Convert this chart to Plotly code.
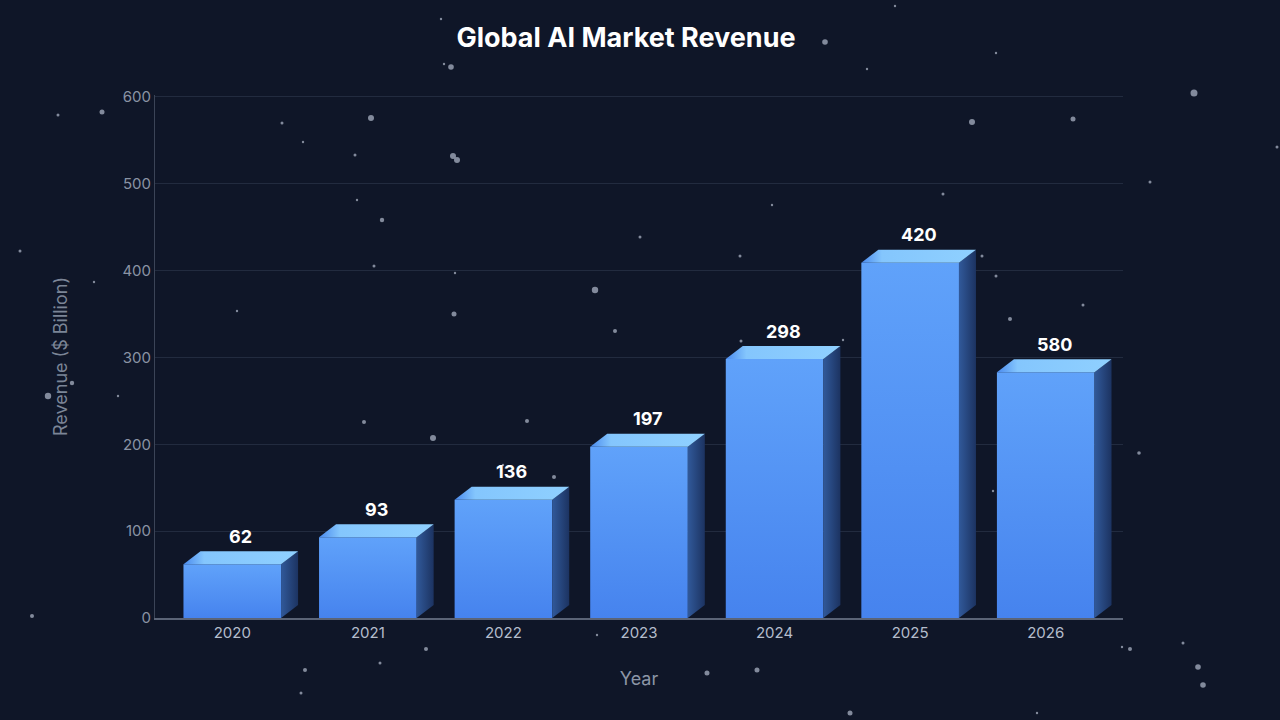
import plotly.graph_objects as go

# ---------------- data ----------------
years = ["2020", "2021", "2022", "2023", "2024", "2025", "2026"]
revenue_labels = [62, 93, 136, 197, 298, 420, 580]          # value labels shown above bars
bar_heights = [62, 93, 136, 197, 298, 409, 283]             # drawn bar heights
y_ticks = [0, 100, 200, 300, 400, 500, 600]

# decorative star field (pixel positions on the 1280x720 canvas, radius in px)
star_px = [441, 895, 825, 444, 451, 867, 996, 1194, 58, 102, 371, 282, 303, 972, 1073, 1277, 355, 453, 457,
           1150, 357, 943, 772, 382, 640, 20, 740, 982, 374, 455, 996, 94, 595, 237, 454, 1083, 1010, 615,
           741, 843, 72, 48, 118, 364, 527, 433, 1139, 554, 503, 993, 32, 597, 426, 1130, 1183, 1122, 305,
           380, 707, 757, 1198, 1203, 301, 850, 1037]
star_py = [19, 6, 42, 64, 67, 69, 53, 93, 115, 112, 118, 123, 142, 122, 119, 147, 155, 156, 160,
           182, 200, 194, 205, 220, 237, 251, 256, 256, 266, 273, 276, 282, 290, 311, 314, 305, 319, 331,
           341, 340, 383, 396, 396, 422, 421, 438, 453, 477, 465, 491, 616, 635, 649, 649, 643, 647, 670,
           663, 673, 670, 667, 685, 693, 713, 713]
star_r = [1.2, 1.2, 2.8, 1.2, 2.8, 1.2, 1.2, 3.5, 1.5, 2.5, 3, 1.5, 1.2, 3, 2.5, 1.5, 1.5, 3, 3,
          1.5, 1.2, 1.5, 1.2, 2.2, 1.5, 1.5, 1.5, 1.5, 1.5, 1.2, 1.5, 1.2, 3.2, 1.2, 2.5, 1.5, 2, 2,
          1.5, 1.2, 2.2, 3.2, 1.2, 2, 2, 3, 1.8, 2, 1.2, 1.2, 2, 1.2, 2, 2, 1.5, 1.2, 2,
          1.5, 2.5, 2.5, 2.8, 2.8, 1.5, 2.5, 1.2]

# ---------------- layout geometry ----------------
W, H = 1280, 720
ML, MR, MT, MB = 155, 157, 95, 102
PW, PH = W - ML - MR, H - MT - MB
X_RANGE = [-0.57, 6.57]
Y_RANGE = [0, 602]
BAR_W = 0.72                                   # front face width in category units
DX = 17 / (PW / (X_RANGE[1] - X_RANGE[0]))     # depth offset (x units)
DY = 13 / (PH / (Y_RANGE[1] - Y_RANGE[0]))     # depth offset (y units)

BG = "#0f1628"
FONT = "Inter"

fig = go.Figure()

for i, h in enumerate(bar_heights):
    xl, xr = i - BAR_W / 2, i + BAR_W / 2
    # front face
    fig.add_trace(go.Scatter(
        x=[xl, xr, xr, xl, xl], y=[0, 0, h, h, 0], mode="lines", fill="toself",
        line=dict(width=0), hoverinfo="skip", showlegend=False,
        fillgradient=dict(type="vertical", start=0, stop=h,
                          colorscale=[[0, "#4683ee"], [1, "#60a2fa"]])))
    # side face
    fig.add_trace(go.Scatter(
        x=[xr, xr + DX, xr + DX, xr, xr], y=[0, DY, h + DY, h, 0], mode="lines", fill="toself",
        line=dict(width=0), hoverinfo="skip", showlegend=False,
        fillgradient=dict(type="horizontal", start=xr, stop=xr + DX,
                          colorscale=[[0, "#31599a"], [1, "#1c3361"]])))
    # top face
    fig.add_trace(go.Scatter(
        x=[xl, xl + DX, xr + DX, xr, xl], y=[h, h + DY, h + DY, h, h], mode="lines", fill="toself",
        line=dict(width=0), hoverinfo="skip", showlegend=False,
        fillgradient=dict(type="horizontal", start=xl, stop=xr + DX,
                          colorscale=[[0, "#4a8aee"], [0.18, "#84c6fd"], [1, "#8fd0ff"]])))
    # value label
    fig.add_annotation(x=i + DX / 2, y=h + DY, text=f"<b>{revenue_labels[i]}</b>", showarrow=False,
                       xref="x", yref="y", yanchor="middle", yshift=15,
                       font=dict(family=FONT, size=18, color="#ffffff"))

# stars as pixel-sized circles in paper coordinates
shapes = []
for px, py, r in zip(star_px, star_py, star_r):
    shapes.append(dict(type="circle", xref="paper", yref="paper", layer="below",
                       xsizemode="pixel", ysizemode="pixel",
                       xanchor=(px - ML) / PW, yanchor=(H - MB - py) / PH,
                       x0=-r, x1=r, y0=-r, y1=r,
                       fillcolor="rgba(170,178,195,0.75)", line=dict(width=0)))

fig.update_layout(
    width=W, height=H,
    margin=dict(l=ML, r=MR, t=MT, b=MB),
    paper_bgcolor=BG, plot_bgcolor=BG,
    shapes=shapes,
    title=dict(text="<b>Global AI Market Revenue</b>", x=626 / W, xanchor="center",
               y=1 - 38 / H, yanchor="middle", yref="container",
               font=dict(family=FONT, size=27, color="#ffffff")),
    xaxis=dict(range=X_RANGE, tickmode="array", tickvals=list(range(len(years))), ticktext=years,
               showgrid=False, zeroline=False, showline=True, linecolor="#5b6477", linewidth=1.5,
               ticks="", tickfont=dict(family=FONT, size=15, color="#b4bdcc"),
               title=dict(text="Year", font=dict(family=FONT, size=18, color="#8c95a6"), standoff=32)),
    yaxis=dict(range=Y_RANGE, tickmode="array", tickvals=y_ticks,
               showgrid=True, gridcolor="#222b3f", gridwidth=1, zeroline=False,
               showline=True, linecolor="#3b4457", linewidth=1,
               ticks="", tickfont=dict(family=FONT, size=15, color="#8a93a4"),
               title=dict(text="Revenue ($ Billion)", font=dict(family=FONT, size=18, color="#7b8597"),
                          standoff=50)),
)

fig.write_html("out.html")
